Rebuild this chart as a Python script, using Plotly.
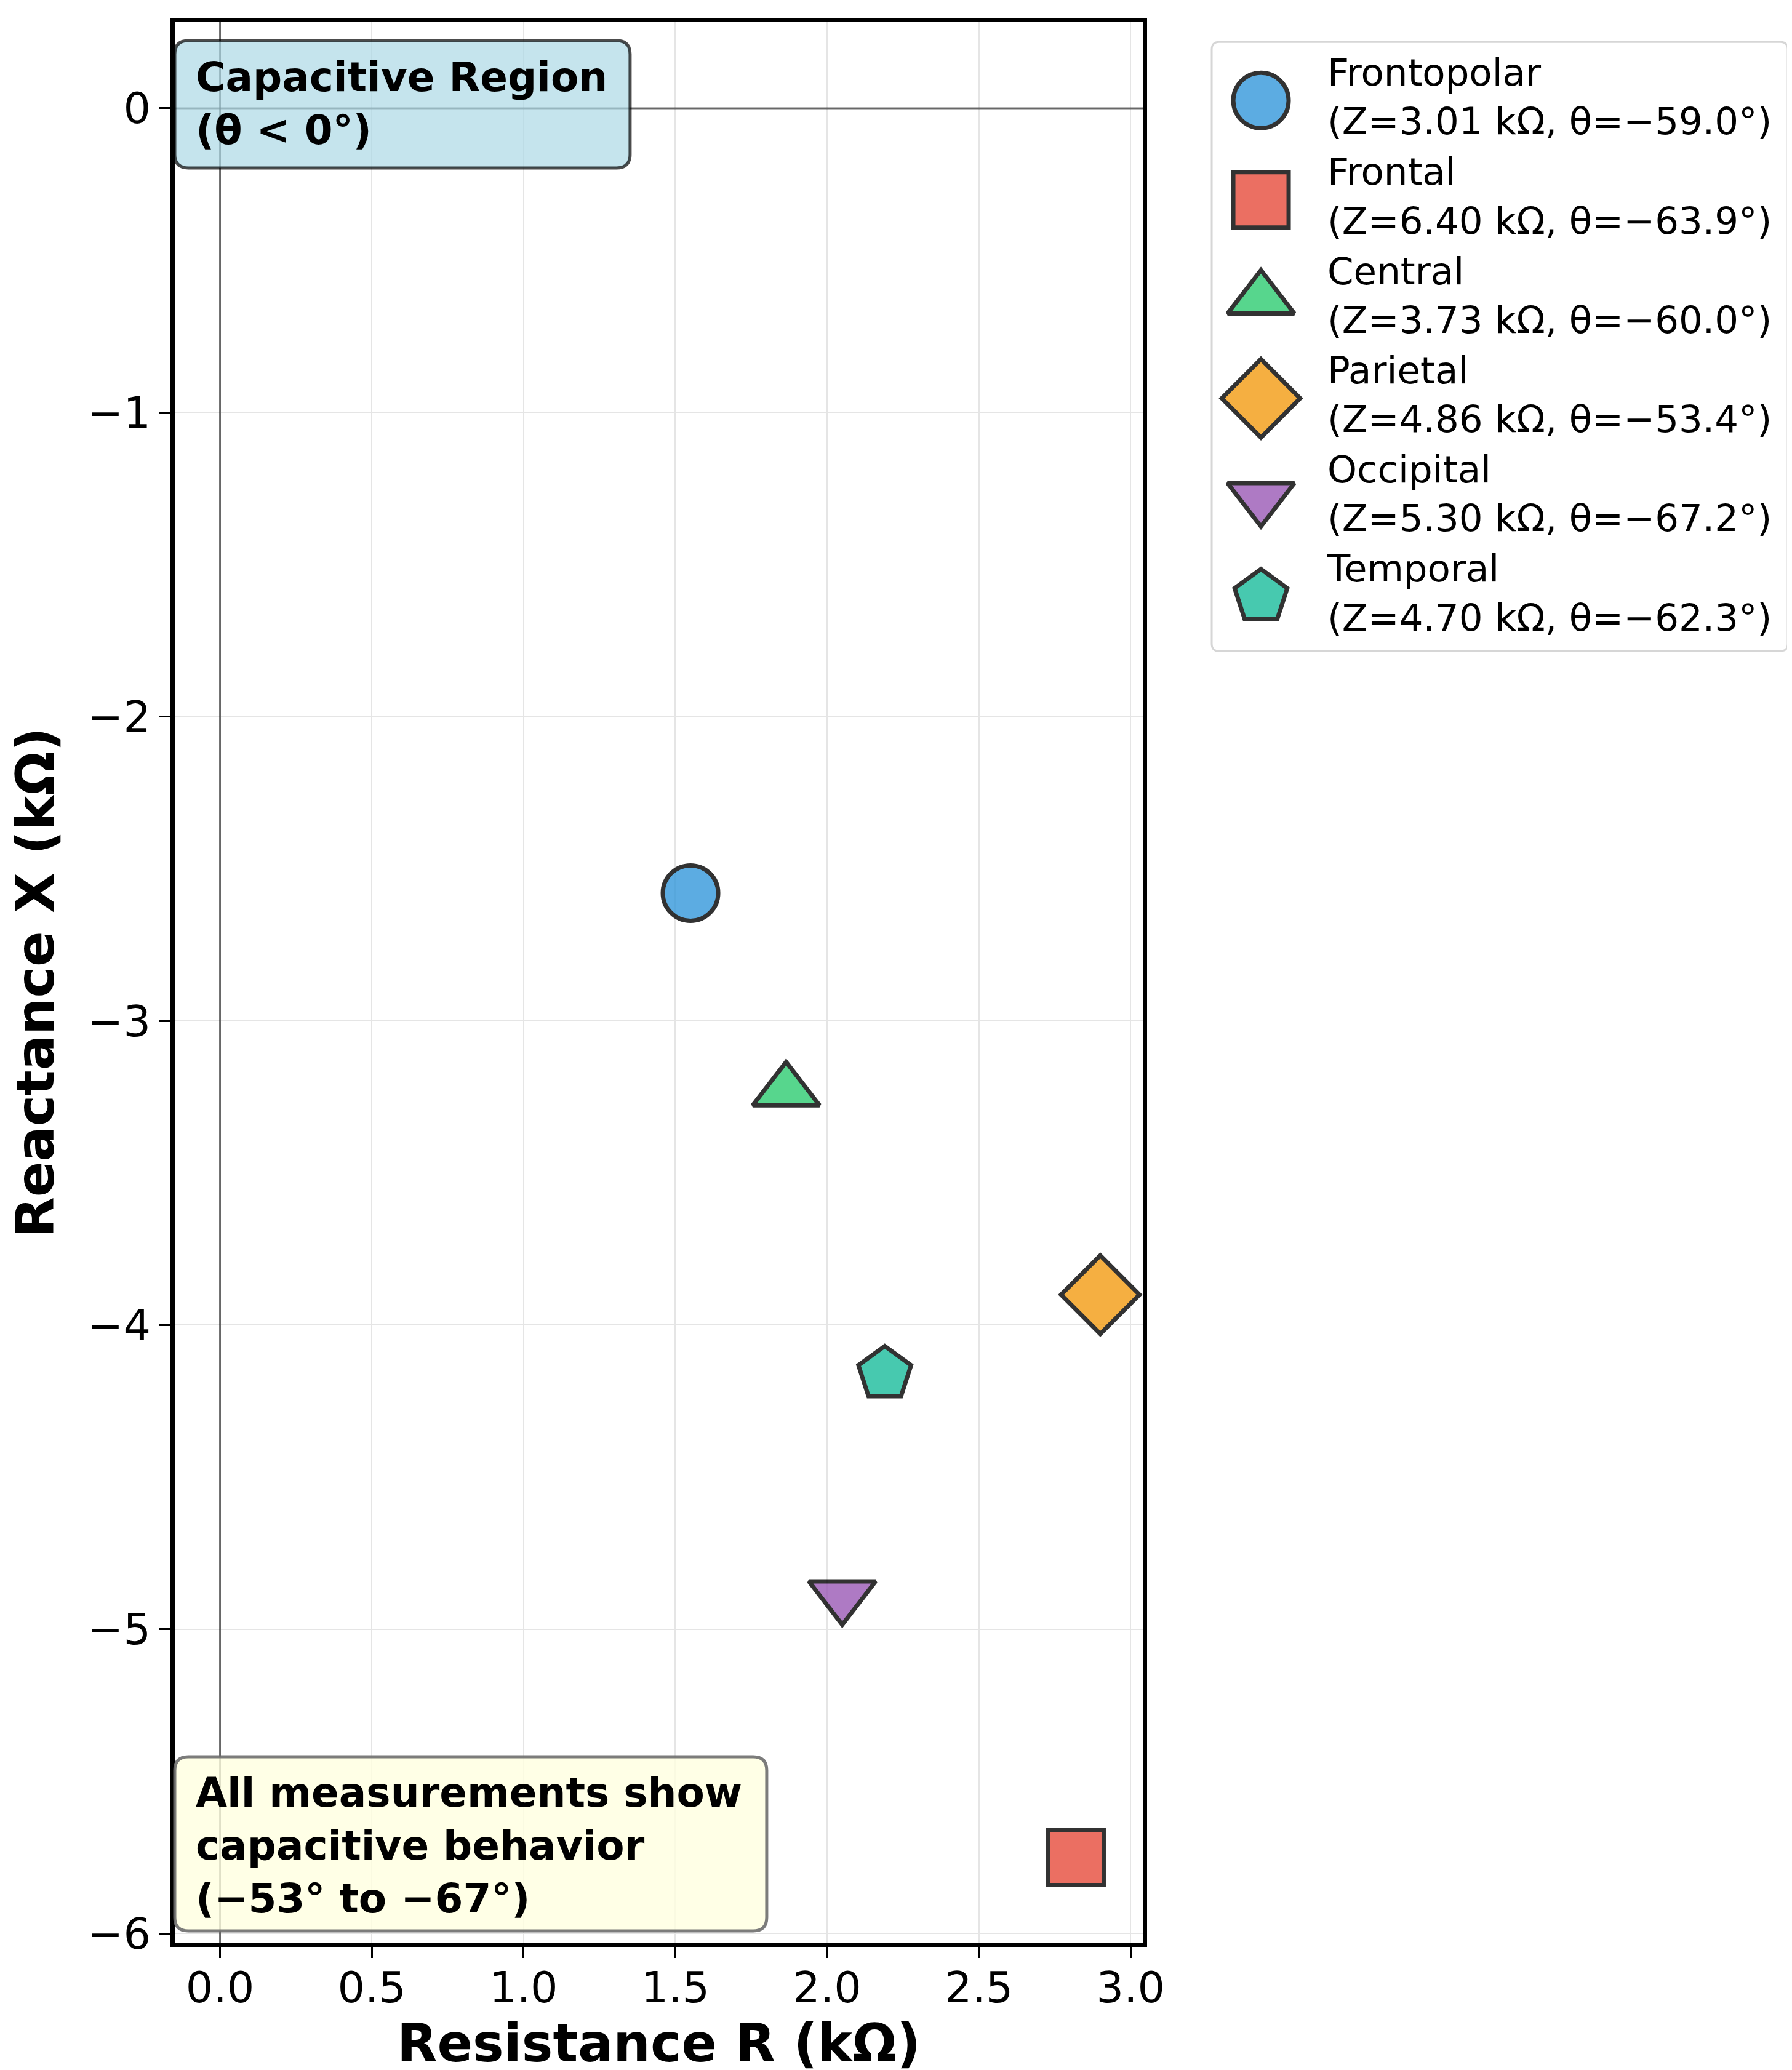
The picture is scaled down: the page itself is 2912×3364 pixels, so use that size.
import plotly.graph_objects as go

# electrode regions and their complex impedance readings
regions = ["Frontopolar", "Frontal", "Central", "Parietal", "Occipital", "Temporal"]
impedance_kohm = [3.01, 6.40, 3.73, 4.86, 5.30, 4.70]
phase_deg = [-59.0, -63.9, -60.0, -53.4, -67.2, -62.3]
resistance_kohm = [1.55, 2.82, 1.865, 2.90, 2.05, 2.19]
reactance_kohm = [-2.58, -5.75, -3.23, -3.90, -4.89, -4.16]

x_ticks = [0.0, 0.5, 1.0, 1.5, 2.0, 2.5, 3.0]
y_ticks = [0, -1, -2, -3, -4, -5, -6]

colors = ["#3498db", "#e74c3c", "#2ecc71", "#f39c12", "#9b59b6", "#1abc9c"]
symbols = ["circle", "square", "triangle-up", "diamond", "triangle-down", "pentagon"]
sizes = [90, 90, 94, 98, 94, 90]

FONT = "DejaVu Sans"
W, H = 2912, 3364
M_L, M_R, M_T, M_B = 276, 15, 28, 215
PLOT_W = W - M_L - M_R
PLOT_H = H - M_T - M_B


def minus(s):
    return s.replace("-", "\u2212")


def rounded_box(x0, y0, x1, y1, r=22):
    rx, ry = r / PLOT_W, r / PLOT_H
    return (f"M{x0 + rx},{y0} L{x1 - rx},{y0} Q{x1},{y0} {x1},{y0 + ry} "
            f"L{x1},{y1 - ry} Q{x1},{y1} {x1 - rx},{y1} L{x0 + rx},{y1} "
            f"Q{x0},{y1} {x0},{y1 - ry} L{x0},{y0 + ry} Q{x0},{y0} {x0 + rx},{y0} Z")


labels = [minus(f"{n}<br>(Z={z:.2f} k\u03a9, \u03b8={t:.1f}\u00b0)")
          for n, z, t in zip(regions, impedance_kohm, phase_deg)]

fig = go.Figure()

for i, name in enumerate(regions):
    marker = dict(symbol=symbols[i], size=sizes[i], color=colors[i], opacity=0.8,
                  line=dict(color="black", width=7))
    fig.add_trace(go.Scatter(x=[resistance_kohm[i]], y=[reactance_kohm[i]],
                             mode="markers", name=name, marker=marker,
                             showlegend=False, xaxis="x", yaxis="y"))
    # hand-drawn legend key (plotly caps legend marker size)
    fig.add_trace(go.Scatter(x=[80], y=[i], mode="markers", marker=marker,
                             showlegend=False, hoverinfo="skip",
                             xaxis="x2", yaxis="y2"))

fig.add_trace(go.Scatter(x=[188] * len(regions), y=list(range(len(regions))),
                         mode="text", text=labels, textposition="middle right",
                         textfont=dict(family=FONT, size=61, color="black"),
                         showlegend=False, hoverinfo="skip",
                         xaxis="x2", yaxis="y2"))

axis_common = dict(showgrid=True, gridcolor="#e5e5e5", gridwidth=2, zeroline=False,
                   showline=True, linecolor="black", linewidth=7, mirror=True,
                   ticks="outside", ticklen=18, tickwidth=3, tickcolor="black",
                   tickfont=dict(family=FONT, size=70, color="black"),
                   automargin=False)

fig.update_layout(
    width=W, height=H,
    margin=dict(l=M_L, r=M_R, t=M_T, b=M_B),
    paper_bgcolor="white", plot_bgcolor="white",
    showlegend=False,
    xaxis=dict(axis_common, domain=[0, 1573 / PLOT_W], range=[-0.149, 3.04],
               tickvals=x_ticks, tickformat=".1f", anchor="y",
               ticklabelstandoff=-12,
               title=dict(text="Resistance R (k\u03a9)", standoff=16,
                          font=dict(family=FONT, size=85, color="black", weight="bold"))),
    yaxis=dict(axis_common, domain=[0, 1], range=[-6.03, 0.283],
               tickvals=y_ticks, ticktext=[minus(str(v)) for v in y_ticks], anchor="x",
               title=dict(text="Reactance X (k\u03a9)", standoff=40,
                          font=dict(family=FONT, size=85, color="black", weight="bold"))),
    xaxis2=dict(domain=[0.6429, 1.0], range=[0, 936], visible=False, anchor="y2"),
    yaxis2=dict(domain=[0.6725, 0.9897], range=[5.547, -0.59], visible=False, anchor="x2"),
)

shapes = [
    # reference lines at zero
    dict(type="line", xref="paper", x0=0, x1=1573 / PLOT_W, yref="y", y0=0, y1=0,
         line=dict(color="rgba(0,0,0,0.55)", width=3), layer="above"),
    dict(type="line", xref="x", x0=0, x1=0, yref="paper", y0=0, y1=1,
         line=dict(color="rgba(0,0,0,0.55)", width=3), layer="above"),
    # legend frame
    dict(type="path", xref="paper", yref="paper",
         path=rounded_box(0.6429, 0.6725, 1.0, 0.9897, r=12),
         line=dict(color="#d6d6d6", width=3), fillcolor="white", layer="below"),
    # info boxes
    dict(type="path", xref="paper", yref="paper",
         path=rounded_box(0.0, 0.9241, 0.2823, 0.9904),
         line=dict(color="rgba(0,0,0,0.7)", width=5),
         fillcolor="rgba(173,216,230,0.7)", layer="above"),
    dict(type="path", xref="paper", yref="paper",
         path=rounded_box(0.0, 0.0061, 0.367, 0.0968),
         line=dict(color="rgba(110,110,110,0.9)", width=5),
         fillcolor="rgba(255,255,224,0.8)", layer="above"),
]
fig.update_layout(shapes=shapes)

note_font = dict(family=FONT, size=66, color="black", weight="bold")
fig.add_annotation(xref="paper", yref="paper", x=0.0122, y=0.9577,
                   xanchor="left", yanchor="middle", align="left", showarrow=False,
                   text="Capacitive Region<br>(\u03b8 < 0\u00b0)", font=note_font)
fig.add_annotation(xref="paper", yref="paper", x=0.0122, y=0.0506,
                   xanchor="left", yanchor="middle", align="left", showarrow=False,
                   text=minus("All measurements show<br>capacitive behavior<br>(-53\u00b0 to -67\u00b0)"),
                   font=note_font)

fig.write_html("out.html")
